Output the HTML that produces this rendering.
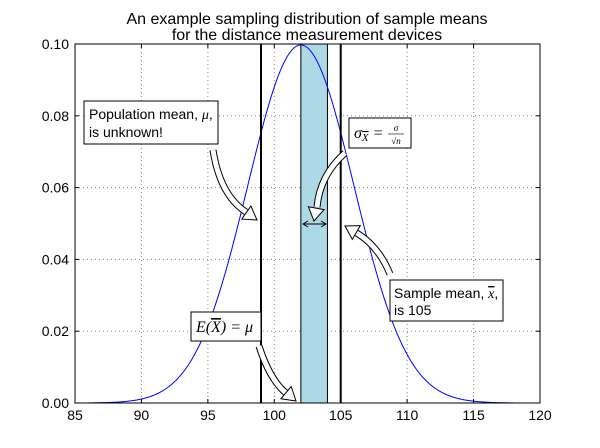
<!DOCTYPE html>
<html><head><meta charset="utf-8"><style>
body{margin:0;background:#fff;}
svg{display:block;font-family:"Liberation Sans","DejaVu Sans",sans-serif;}
.m{font-family:"Liberation Serif","DejaVu Serif",serif;font-style:italic;}
</style></head><body>
<svg id="c" width="600" height="448" viewBox="0 0 600 448">
<g id="grid"></g>
<rect x="301" y="44" width="27" height="359" fill="#add8e6" stroke="#000" stroke-width="1" id="band"/>
<path id="curve" fill="none" stroke="#0000ff" stroke-width="1"/>
<g id="vlines"></g>
<rect x="75" y="44" width="465" height="359" fill="none" stroke="#000" stroke-width="1"/>
<g id="ticks"></g>
<text x="307" y="24" text-anchor="middle" font-size="16">An example sampling distribution of sample means</text>
<text x="307" y="40" text-anchor="middle" font-size="16">for the distance measurement devices</text>
<g id="arrows"></g>
<g>
<rect x="84" y="101" width="134" height="43" fill="#fff" stroke="#000"/>
<text x="89" y="119" font-size="14">Population mean, <tspan class="m">μ</tspan>,</text>
<text x="89" y="137" font-size="14">is unknown!</text></g>
<g>
<rect x="349" y="118" width="62" height="30" fill="#fff" stroke="#000"/>
<text x="354" y="138" font-size="16" class="m">σ<tspan font-size="11" dy="3" text-decoration="overline">X</tspan><tspan dy="-3"> = </tspan></text>
<text x="396" y="131" font-size="9" class="m" text-anchor="middle">σ</text>
<line x1="388" y1="134" x2="404" y2="134" stroke="#000" stroke-width="0.6"/>
<text x="396" y="144" font-size="9" class="m" text-anchor="middle">√n</text></g>
<g>
<rect x="191" y="312" width="70" height="29" fill="#fff" stroke="#000"/>
<text x="196" y="332" font-size="16" class="m">E(<tspan text-decoration="overline">X</tspan>) = μ</text></g>
<g>
<rect x="390" y="280" width="113" height="41" fill="#fff" stroke="#000"/>
<text x="394" y="298" font-size="14">Sample mean, <tspan class="m" text-decoration="overline">x</tspan>,</text>
<text x="394" y="315" font-size="14">is 105</text></g>
<g>
<line x1="304" y1="224" x2="325" y2="224" stroke="#000"/>
<path d="M308 221 L303 224 L308 227 M321 221 L326 224 L321 227" fill="none" stroke="#000"/></g>
</svg>
<script>
const xTicks=[85,90,95,100,105,110,115,120];
const yTicks=[0,0.02,0.04,0.06,0.08,0.10];
const yTickLabels=["0.00","0.02","0.04","0.06","0.08","0.10"];
const popMean=[102];
const popSd=[4];
const curveRange=[86,118];
const markerLines=[99,105];
const band=[102,104];
const NS="http://www.w3.org/2000/svg";
const X=v=>75+(v-85)*(465/35), Y=v=>403-v*(359/0.1);
function mk(t,a,p){const e=document.createElementNS(NS,t);for(const k in a)e.setAttribute(k,a[k]);p.appendChild(e);return e;}
const g=document.getElementById('grid'),tk=document.getElementById('ticks');
xTicks.forEach(v=>{
 const l=mk('line',{x1:X(v),x2:X(v),y1:44,y2:403,stroke:'#888','stroke-dasharray':'1,3'},g);
 
 
 const t=mk('text',{x:X(v),y:420,'text-anchor':'middle','font-size':14},tk);t.textContent=v;
 
 
 mk('line',{x1:X(v),x2:X(v),y1:403,y2:399,stroke:'#000'},tk);mk('line',{x1:X(v),x2:X(v),y1:44,y2:48,stroke:'#000'},tk);
});
yTicks.forEach((v,i)=>{
 const l=mk('line',{x1:75,x2:540,y1:Y(v),y2:Y(v),stroke:'#888','stroke-dasharray':'1,3'},g);
 
 
 const t=mk('text',{x:69,y:Y(v)+5,'text-anchor':'end','font-size':14},tk);t.textContent=yTickLabels[i];
 
 
 mk('line',{x1:75,x2:79,y1:Y(v),y2:Y(v),stroke:'#000'},tk);mk('line',{x1:540,x2:536,y1:Y(v),y2:Y(v),stroke:'#000'},tk);
});
const b=document.getElementById('band');b.setAttribute('x',X(band[0]));b.setAttribute('width',X(band[1])-X(band[0]));
let d='';const mu=popMean[0],sd=popSd[0];
for(let x=curveRange[0];x<=curveRange[1]+1e-9;x+=0.1){const y=Math.exp(-0.5*((x-mu)/sd)**2)/(sd*Math.sqrt(2*Math.PI));d+=(d?'L':'M')+X(x).toFixed(2)+' '+Y(y).toFixed(2);}
document.getElementById('curve').setAttribute('d',d);
const vl=document.getElementById('vlines');
markerLines.forEach(v=>{const l=mk('line',{x1:X(v),x2:X(v),y1:44,y2:403,stroke:'#000','stroke-width':2},vl);
 
 });
const ar=document.getElementById('arrows');
function fancy(p,tip,ang){
 mk('path',{d:p,fill:'none',stroke:'#000','stroke-width':7},ar);
 mk('path',{d:p,fill:'none',stroke:'#fff','stroke-width':5},ar);
 const a=ang*Math.PI/180,c=Math.cos(a),s=Math.sin(a);
 const pt=(u,w)=>(tip[0]+u*c-w*s).toFixed(1)+','+(tip[1]+u*s+w*c).toFixed(1);
 mk('polygon',{points:[pt(0,0),pt(-13,-8),pt(-13,8)].join(' '),fill:'#fff',stroke:'#000','stroke-width':1},ar);
}
fancy('M213 150 Q220 195 246 212',[257,220],35);
fancy('M345 153 Q320 175 317 207',[314,221],100);
fancy('M390 274 Q378 245 355 232',[345,226],210);
fancy('M259 346 Q270 380 286 393',[296,401],40);
</script>
</body></html>
